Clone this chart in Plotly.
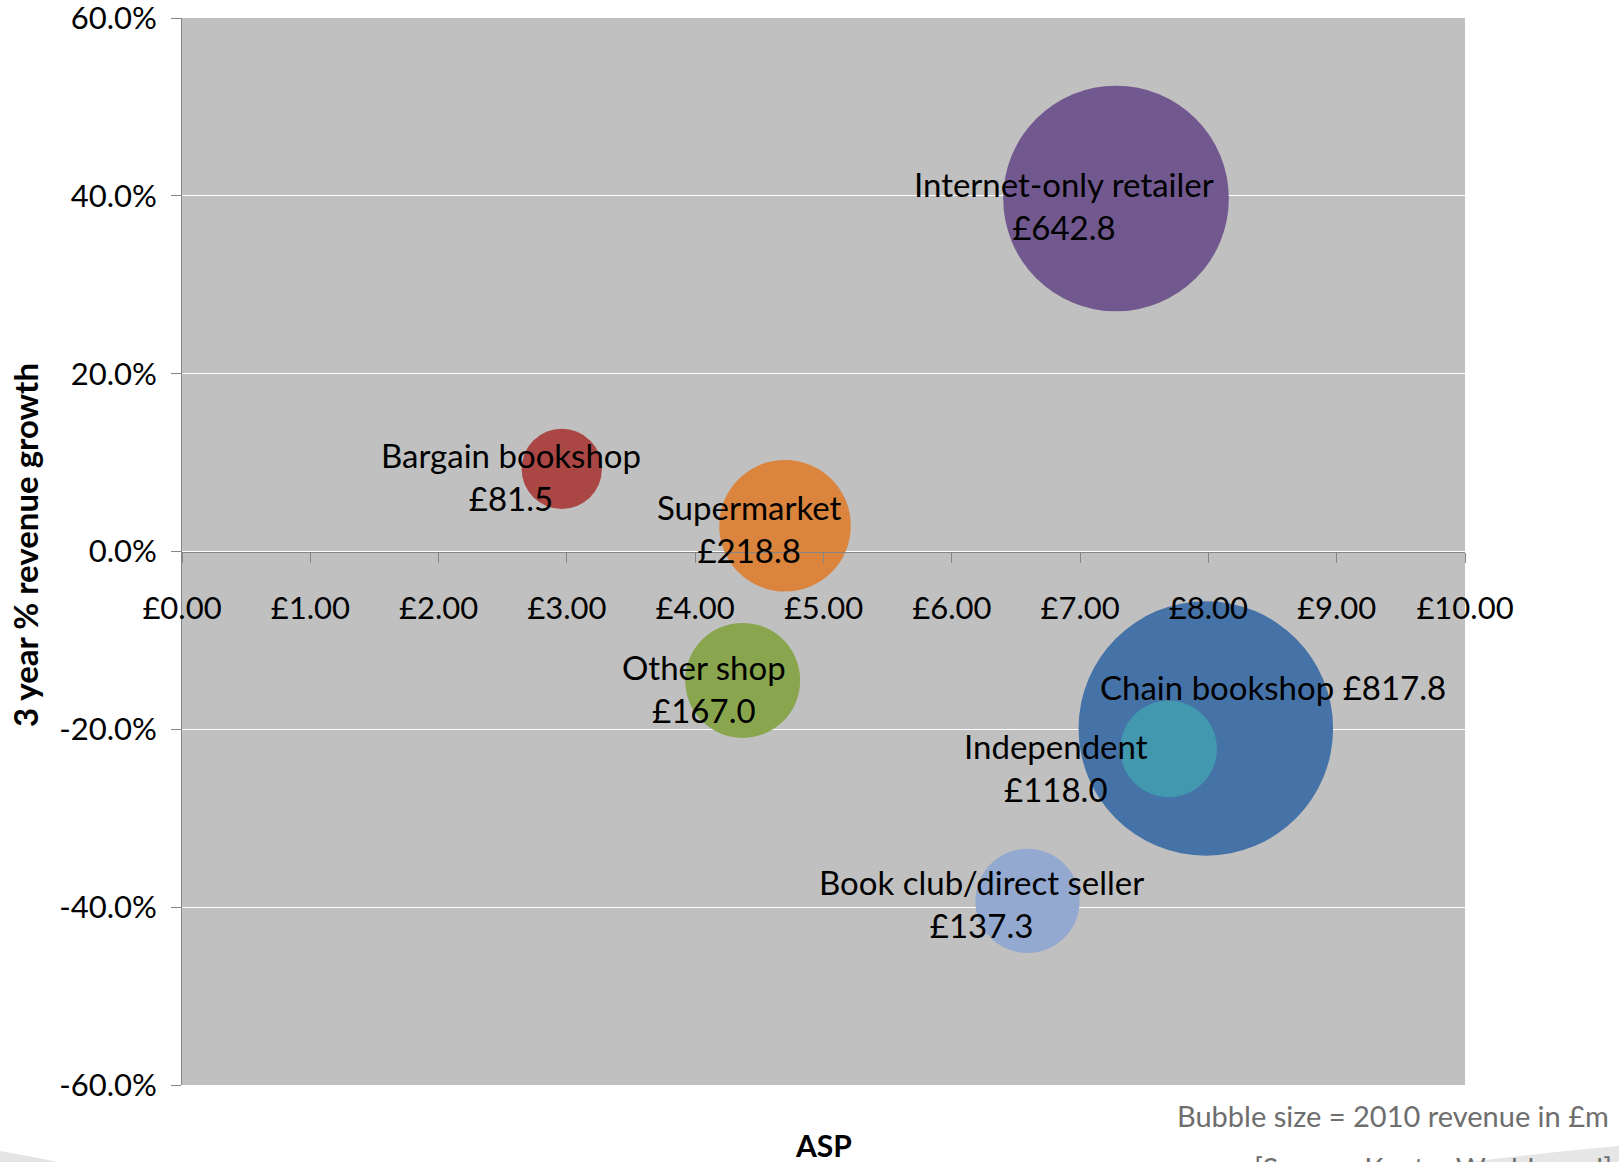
import plotly.graph_objects as go

# ---- data ----
channels = ["Chain bookshop", "Bargain bookshop", "Other shop", "Internet-only retailer",
            "Independent", "Supermarket", "Book club/direct seller"]
asp = [7.98, 2.96, 4.37, 7.28, 7.69, 4.70, 6.59]                  # £
growth = [-0.199, 0.093, -0.145, 0.397, -0.222, 0.029, -0.393]    # 3 year % revenue growth
revenue = [817.8, 81.5, 167.0, 642.8, 118.0, 218.8, 137.3]        # 2010 revenue £m
colors = ["#4572A7", "#AA4643", "#89A54E", "#71588F", "#4198AF", "#DB843D", "#93A9CF"]

y_ticks = [-0.6, -0.4, -0.2, 0.0, 0.2, 0.4, 0.6]
x_ticks = list(range(0, 11))
y_ticktext = [f"{v * 100:.1f}%" for v in y_ticks]
x_ticktext = [f"£{v:.2f}" for v in x_ticks]

# label placement (pixel offsets from bubble centre), style only
label_shift = {
    "Chain bookshop": (67, 41),
    "Bargain bookshop": (-51, -8),
    "Other shop": (-39, -8),
    "Internet-only retailer": (-52, -7),
    "Independent": (-113, -19),
    "Supermarket": (-36, -3),
    "Book club/direct seller": (-46, -3),
}
single_line = {"Chain bookshop"}

FONT = "Lato, 'Open Sans', sans-serif"
L, R, T, B = 182, 154, 18, 77
W, H = 1619, 1162
PW, PH = W - L - R, H - T - B


def px(x):
    return (x - L) / PW


def py(y):
    return (H - B - y) / PH


fig = go.Figure()
fig.add_trace(go.Scatter(
    x=asp, y=growth, mode="markers",
    marker=dict(size=revenue, sizemode="area", sizeref=1 / (2 * 4.45 ** 2),
                color=colors, line=dict(width=0), opacity=1),
    hoverinfo="skip", showlegend=False, cliponaxis=False,
))

annotations = []
for name, x, y, v in zip(channels, asp, growth, revenue):
    sep = " " if name in single_line else "<br>"
    dx, dy = label_shift[name]
    annotations.append(dict(
        x=x, y=y, xref="x", yref="y", text=f"{name}{sep}£{v:.1f}",
        showarrow=False, xshift=dx, yshift=dy, align="center",
        font=dict(family=FONT, size=33, color="black"),
    ))

annotations += [
    dict(x=px(25), y=py(545), xref="paper", yref="paper", text="<b>3 year % revenue growth</b>",
         textangle=-90, showarrow=False, xanchor="center", yanchor="middle",
         font=dict(family=FONT, size=33, color="black")),
    dict(x=px(823), y=py(1145), xref="paper", yref="paper", text="<b>ASP</b>",
         showarrow=False, xanchor="center", yanchor="middle",
         font=dict(family=FONT, size=30, color="black")),
    dict(x=px(1611), y=py(1115), xref="paper", yref="paper", text="Bubble size = 2010 revenue in £m",
         showarrow=False, xanchor="right", yanchor="middle",
         font=dict(family=FONT, size=29, color="#6E6E6E")),
    dict(x=px(1614), y=py(1168), xref="paper", yref="paper", text="[Source: Kantar Worldpanel]",
         showarrow=False, xanchor="right", yanchor="middle",
         font=dict(family=FONT, size=29, color="#6E6E6E")),
]

shapes = [
    dict(type="path", xref="paper", yref="paper", layer="below", line=dict(width=0),
         fillcolor="#E4E4E4",
         path=f"M {px(0)},{py(1151)} Q {px(30)},{py(1156)} {px(58)},{py(1162)} L {px(0)},{py(1162)} Z"),
    dict(type="path", xref="paper", yref="paper", layer="below", line=dict(width=0),
         fillcolor="#E6E6E6",
         path=f"M {px(1470)},{py(1162)} Q {px(1550)},{py(1152)} {px(1619)},{py(1146)} L {px(1619)},{py(1162)} Z"),
]

fig.update_layout(
    width=W, height=H,
    margin=dict(l=L, r=R, t=T, b=B, pad=0, autoexpand=False),
    paper_bgcolor="white", plot_bgcolor="#C0C0C0",
    font=dict(family=FONT, size=30, color="black"),
    annotations=annotations, shapes=shapes,
    xaxis=dict(
        range=[0, 10], tickvals=x_ticks, ticktext=x_ticktext, automargin=False,
        anchor="free", position=0.5, showline=True, linecolor="#868686", linewidth=1,
        ticks="outside", ticklen=10, tickcolor="#868686", tickwidth=1,
        showgrid=False, zeroline=False, ticklabelstandoff=19, ticklabeloverflow="allow",
        tickfont=dict(family=FONT, size=31, color="black"),
    ),
    yaxis=dict(
        range=[-0.6, 0.6], tickvals=y_ticks, ticktext=y_ticktext, automargin=False,
        showline=True, linecolor="#868686", linewidth=1,
        ticks="outside", ticklen=10, tickcolor="#868686", tickwidth=1,
        showgrid=True, gridcolor="white", gridwidth=1, zeroline=False,
        ticklabelstandoff=8, ticklabeloverflow="allow",
        tickfont=dict(family=FONT, size=31, color="black"),
    ),
)

fig.write_html("out.html")
